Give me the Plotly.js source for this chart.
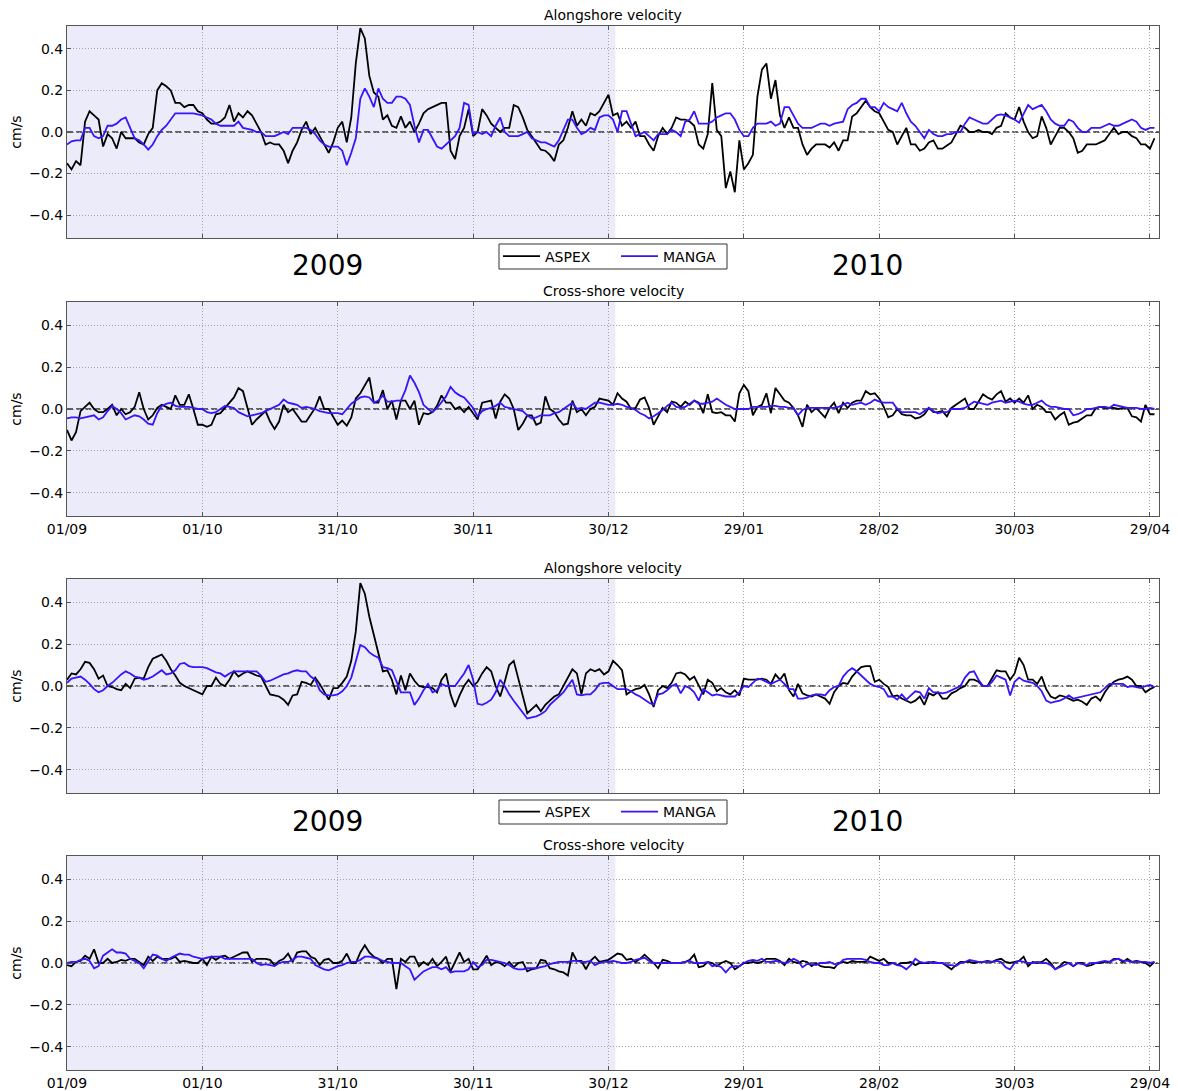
<!DOCTYPE html>
<html>
<head>
<meta charset="utf-8">
<script src="https://cdn.plot.ly/plotly-3.0.1.min.js"></script>
<style>
html,body{margin:0;padding:0;background:#fff;}
#chart{width:1178px;height:1091px;}
</style>
</head>
<body>
<div id="chart"></div>
<script>
// ---------------- DATA (daily values starting 01/09/2009) ----------------
const startDate = '2009-09-01';
const seriesNames = ['ASPEX', 'MANGA'];
const panelTitles = ['Alongshore velocity', 'Cross-shore velocity', 'Alongshore velocity', 'Cross-shore velocity'];
const yearLabels = ['2009', '2010'];
const yTicks = [-0.4, -0.2, 0.0, 0.2, 0.4];
const shadeEnd = '2009-12-31 12:00';
const xEnd = '2010-05-01';

// Panel 1 : alongshore velocity
const along1_aspex = [
-0.15,-0.18,-0.14,-0.16,0.05,0.10,0.08,0.06,-0.07,-0.01,
-0.03,-0.08,0.00,-0.03,-0.03,-0.03,-0.05,-0.06,-0.01,0.02,
0.20,0.235,0.22,0.20,0.14,0.14,0.12,0.13,0.13,0.10,
0.09,0.06,0.04,0.04,0.05,0.07,0.13,0.05,0.09,0.07,
0.10,0.08,0.04,0.00,-0.06,-0.05,-0.06,-0.06,-0.09,-0.15,
-0.09,-0.05,0.01,0.05,-0.01,0.02,-0.02,-0.06,-0.10,-0.05,
0.02,0.05,-0.05,0.07,0.33,0.50,0.45,0.27,0.19,0.17,
0.06,0.08,0.03,0.02,0.075,0.02,0.05,0.00,0.04,0.09,
0.11,0.12,0.13,0.14,0.14,-0.09,-0.13,-0.02,0.02,0.11,
-0.02,0.00,0.11,0.08,0.04,0.02,0.00,0.02,0.02,0.13,
0.12,0.07,0.01,-0.02,-0.05,-0.085,-0.09,-0.11,-0.14,-0.06,
-0.04,0.02,0.10,0.03,0.06,0.03,0.09,0.08,0.10,0.14,
0.18,0.08,0.09,0.03,0.05,0.02,0.05,-0.02,-0.02,-0.06,
-0.09,-0.02,0.02,-0.01,0.02,0.07,0.06,0.06,0.05,0.03,
-0.06,-0.08,-0.01,0.235,0.01,-0.02,-0.27,-0.19,-0.29,-0.04,
-0.18,-0.15,-0.11,0.17,0.30,0.33,0.16,0.25,0.08,0.02,
0.07,0.02,0.02,-0.06,-0.11,-0.08,-0.06,-0.06,-0.06,-0.075,
-0.05,-0.09,-0.04,-0.04,0.075,0.09,0.12,0.15,0.12,0.10,
0.09,0.05,0.01,0.00,-0.06,-0.02,0.02,-0.06,-0.06,-0.09,
-0.08,-0.05,-0.04,-0.08,-0.08,-0.065,-0.05,-0.01,0.03,0.02,
0.00,0.00,0.01,0.00,0.00,-0.01,0.02,0.03,0.09,0.07,
0.06,0.12,0.05,0.00,-0.03,-0.02,0.075,0.02,-0.06,-0.02,
0.02,0.02,0.00,-0.03,-0.10,-0.09,-0.06,-0.06,-0.06,-0.05,
-0.04,-0.01,0.02,-0.01,0.00,0.00,-0.02,-0.03,-0.06,-0.06,
-0.08,-0.03];
const along1_manga = [
-0.06,-0.045,-0.04,-0.04,0.02,0.02,-0.02,-0.03,-0.02,0.03,
0.03,0.04,0.06,0.07,0.02,-0.03,-0.04,-0.06,-0.085,-0.06,
-0.02,0.01,0.03,0.06,0.09,0.09,0.09,0.09,0.09,0.085,
0.08,0.07,0.06,0.04,0.03,0.03,0.03,0.03,0.05,0.02,
0.015,0.01,0.0,0.0,-0.02,-0.02,-0.02,-0.01,0.0,-0.01,
0.02,0.02,0.02,0.02,0.01,-0.01,-0.04,-0.06,-0.07,-0.07,
-0.07,-0.09,-0.16,-0.10,-0.03,0.16,0.21,0.17,0.12,0.21,
0.16,0.14,0.14,0.17,0.17,0.16,0.13,0.03,-0.05,0.01,
0.01,-0.03,-0.07,-0.08,-0.06,-0.04,-0.02,0.02,0.14,0.13,
-0.01,0.0,-0.01,0.0,-0.02,0.03,0.07,0.0,-0.02,-0.02,
-0.02,-0.01,0.0,-0.03,-0.04,-0.05,-0.05,-0.06,-0.07,-0.04,
0.01,0.06,0.06,0.02,-0.01,0.0,0.02,0.01,0.07,0.08,
0.08,0.06,0.0,0.10,0.10,0.04,-0.02,-0.01,0.0,-0.02,
-0.04,-0.01,-0.01,-0.01,0.01,0.0,-0.02,0.05,0.06,0.10,
0.04,0.04,0.04,0.05,0.07,0.08,0.09,0.09,0.06,0.01,
-0.02,-0.02,0.02,0.04,0.04,0.04,0.05,0.03,0.04,0.12,
0.12,0.08,0.04,0.02,0.02,0.02,0.03,0.04,0.04,0.03,
0.04,0.045,0.05,0.11,0.13,0.14,0.16,0.16,0.12,0.12,
0.10,0.14,0.12,0.11,0.10,0.14,0.09,0.05,0.03,0.0,
-0.03,0.01,-0.01,-0.02,-0.02,-0.01,-0.01,0.0,0.0,0.04,
0.07,0.06,0.05,0.04,0.04,0.06,0.08,0.085,0.08,0.07,
0.06,0.045,0.09,0.13,0.11,0.12,0.13,0.10,0.06,0.04,
0.03,0.03,0.06,0.05,0.02,0.0,0.0,0.02,0.02,0.02,
0.03,0.04,0.03,0.03,0.04,0.05,0.06,0.05,0.02,0.01,
0.02,0.02];

// Panel 2 : cross-shore velocity
const cross1_aspex = [
-0.10,-0.15,-0.11,-0.01,0.01,0.03,0.0,-0.015,-0.015,0.0,
0.02,-0.03,0.0,-0.025,-0.015,0.01,0.08,0.0,-0.05,-0.03,
0.005,0.02,0.01,0.0,0.065,0.02,0.02,0.07,0.0,-0.075,
-0.075,-0.085,-0.075,-0.025,-0.02,0.005,0.03,0.055,0.10,0.085,
0.005,-0.075,-0.05,-0.03,-0.01,-0.06,-0.095,-0.06,0.02,-0.015,
0.0,-0.03,-0.06,-0.06,-0.03,0.005,0.06,0.0,0.0,-0.035,
-0.075,-0.055,-0.08,-0.04,0.05,0.075,0.11,0.15,0.03,0.03,
0.09,0.0,0.04,-0.05,0.04,0.04,0.0,0.04,-0.075,-0.02,
-0.025,-0.015,0.015,0.065,0.03,0.03,0.0,0.01,-0.015,0.01,
-0.02,-0.05,0.03,0.035,0.04,-0.045,0.035,0.07,0.05,0.0,
-0.10,-0.07,-0.03,-0.03,-0.075,-0.065,0.06,0.0,-0.015,-0.05,
-0.075,-0.07,0.04,-0.015,0.0,-0.03,0.0,0.01,0.05,0.045,
0.04,0.02,0.075,0.05,0.035,0.0,0.005,0.045,0.055,0.005,
-0.075,-0.035,0.005,-0.015,0.035,0.03,0.01,0.035,0.02,0.04,
0.03,-0.02,0.07,-0.015,-0.02,-0.015,-0.03,-0.03,-0.06,0.075,
0.115,0.085,-0.03,0.01,0.02,0.075,-0.02,0.10,0.07,0.04,
0.03,0.005,-0.03,-0.085,0.02,-0.015,0.005,-0.02,-0.04,0.005,
0.03,-0.02,0.03,0.005,0.03,0.04,0.04,0.085,0.07,0.075,
0.05,0.01,-0.04,-0.03,0.0,-0.025,-0.03,-0.03,-0.045,-0.04,
-0.025,0.005,-0.015,-0.015,-0.01,-0.035,0.005,0.02,0.035,0.05,
0.0,0.0,0.035,0.07,0.055,0.045,0.07,0.085,0.035,0.05,
0.03,0.05,0.03,0.065,0.0,0.02,0.01,-0.015,-0.015,-0.05,
-0.03,-0.015,-0.075,-0.065,-0.06,-0.045,-0.03,-0.03,0.005,0.01,
0.005,0.005,0.005,0.0,0.005,0.005,-0.035,-0.04,-0.06,0.02,
-0.025,-0.025];
const cross1_manga = [
-0.045,-0.04,-0.04,-0.045,-0.04,-0.035,-0.03,-0.05,-0.04,-0.01,
0.015,0.0,-0.02,-0.05,-0.04,-0.03,-0.035,-0.05,-0.07,-0.075,
-0.02,0.015,0.025,0.03,0.015,0.01,0.01,0.01,0.005,0.0,
0.0,-0.015,-0.02,-0.015,0.0,0.015,0.01,0.005,-0.015,-0.025,
-0.035,-0.03,-0.025,-0.02,-0.01,0.0,0.01,0.02,0.045,0.03,
0.025,0.02,0.005,0.01,0.005,0.0,-0.01,-0.015,-0.02,-0.02,
-0.02,-0.025,0.0,0.025,0.04,0.055,0.06,0.055,0.03,0.04,
0.065,0.035,0.035,0.04,0.04,0.09,0.16,0.125,0.08,0.02,
0.0,-0.015,0.005,0.03,0.06,0.105,0.08,0.065,0.055,0.03,
0.005,-0.035,-0.01,0.0,0.005,0.015,0.03,0.01,0.005,0.0,
-0.005,-0.01,-0.03,-0.045,-0.04,-0.03,-0.03,-0.03,-0.02,-0.015,
0.0,0.015,0.03,0.0,0.005,0.0,0.015,0.03,0.03,0.025,
0.02,0.02,0.025,0.02,0.01,0.005,-0.005,-0.02,-0.03,-0.045,
-0.035,-0.02,-0.005,0.015,0.03,0.01,0.005,0.01,0.025,0.04,
0.025,0.025,0.03,0.035,0.05,0.035,0.02,0.01,0.0,0.0,
0.0,0.0,0.01,0.01,0.01,0.01,0.015,0.015,0.01,0.01,
0.005,0.005,-0.03,-0.005,0.005,0.005,0.005,0.005,0.005,0.005,
0.005,0.01,0.02,0.03,0.02,0.025,0.03,0.02,0.03,0.045,
0.035,0.03,0.03,0.03,0.0,-0.015,-0.015,-0.015,-0.015,-0.025,
-0.01,0.005,-0.01,-0.02,-0.015,-0.015,0.0,0.0,0.0,0.005,
0.02,0.035,0.03,0.025,0.02,0.03,0.035,0.04,0.03,0.035,
0.04,0.035,0.025,0.02,0.02,0.03,0.04,0.02,0.01,0.01,
0.005,0.0,0.0,-0.03,-0.025,-0.015,0.0,0.0,0.005,0.01,
0.01,0.005,0.02,0.015,0.01,0.005,0.005,0.005,0.0,0.0,
0.005,0.0];

// Panel 3 : alongshore velocity
const along2_aspex = [
0.03,0.06,0.055,0.08,0.115,0.11,0.08,0.035,0.05,0.0,
-0.005,-0.015,-0.02,0.01,-0.01,0.035,0.04,0.035,0.09,0.13,
0.14,0.15,0.12,0.08,0.05,0.015,0.0,-0.01,-0.02,-0.03,
-0.04,0.0,0.0,0.04,0.01,0.0,0.03,0.07,0.045,0.06,
0.07,0.06,0.05,0.045,0.0,-0.04,-0.045,-0.05,-0.065,-0.09,
-0.045,-0.04,0.02,0.015,0.005,0.04,0.01,-0.025,-0.065,-0.01,
-0.01,0.015,0.045,0.12,0.26,0.49,0.44,0.33,0.24,0.16,
0.07,0.075,0.03,-0.04,0.05,-0.02,0.06,0.025,0.0,-0.005,
-0.005,-0.01,-0.03,0.03,0.06,-0.04,-0.10,-0.045,0.0,0.03,
0.0,0.02,0.06,0.09,0.07,0.0,-0.05,0.02,0.10,0.12,
0.035,-0.04,-0.13,-0.11,-0.09,-0.12,-0.09,-0.07,-0.05,-0.04,
0.0,0.045,0.08,0.06,-0.04,0.06,0.08,0.07,0.08,0.055,
0.07,0.12,0.10,0.075,-0.04,-0.025,-0.015,-0.01,0.005,-0.04,
-0.10,-0.02,0.0,-0.01,0.015,0.06,0.065,0.055,0.03,0.045,
0.0,-0.04,0.03,0.015,-0.025,-0.01,-0.03,-0.04,-0.02,-0.045,
0.035,0.03,0.03,0.03,0.035,0.03,0.01,0.055,0.03,0.06,
-0.02,-0.05,0.01,-0.035,-0.045,-0.05,-0.04,-0.05,-0.06,-0.085,
-0.03,0.0,0.015,0.01,0.045,0.07,0.09,0.095,0.095,0.02,
0.03,0.01,-0.005,-0.05,-0.045,-0.06,-0.07,-0.08,-0.07,-0.05,
-0.09,-0.035,-0.045,-0.03,-0.06,-0.06,-0.035,-0.025,-0.01,0.0,
0.03,0.03,0.02,0.0,0.0,0.04,0.075,0.07,0.07,0.03,
0.06,0.135,0.10,0.03,0.03,0.01,0.045,-0.015,-0.05,-0.06,
-0.045,-0.05,-0.06,-0.07,-0.065,-0.075,-0.09,-0.06,-0.05,-0.07,
-0.03,0.0,0.02,0.03,0.035,0.045,0.03,0.0,0.0,-0.03,
-0.015,-0.005];
const along2_manga = [
0.015,0.035,0.04,0.045,0.03,0.01,-0.015,-0.03,-0.02,0.0,
0.015,0.035,0.055,0.07,0.06,0.045,0.04,0.03,0.035,0.045,
0.06,0.075,0.055,0.06,0.075,0.105,0.11,0.095,0.09,0.09,
0.09,0.085,0.075,0.065,0.06,0.045,0.06,0.07,0.07,0.07,
0.07,0.07,0.07,0.05,0.02,0.025,0.035,0.045,0.055,0.06,
0.07,0.075,0.07,0.07,0.045,0.03,-0.02,-0.04,-0.045,-0.045,
-0.04,-0.025,0.0,0.04,0.12,0.195,0.185,0.16,0.145,0.135,
0.09,0.085,0.075,0.02,-0.03,-0.03,-0.03,-0.09,-0.06,-0.02,
0.01,-0.03,-0.02,0.01,0.0,0.0,0.0,0.03,0.06,0.10,
0.03,-0.085,-0.09,-0.08,-0.065,-0.03,0.03,0.0,-0.04,-0.07,
-0.10,-0.13,-0.155,-0.15,-0.145,-0.135,-0.12,-0.09,-0.07,-0.05,
-0.03,0.0,0.03,-0.04,-0.045,-0.04,-0.04,-0.02,0.01,0.015,
0.015,0.0,-0.015,-0.015,-0.015,-0.025,-0.04,-0.05,-0.065,-0.08,
-0.09,-0.04,-0.035,-0.02,0.0,0.01,-0.035,0.0,-0.01,-0.03,
-0.07,-0.015,-0.03,-0.045,-0.04,-0.045,-0.05,-0.05,-0.05,-0.03,
0.0,-0.005,0.015,0.035,0.03,0.02,0.01,0.02,0.03,0.01,
-0.015,-0.015,-0.06,-0.06,-0.055,-0.045,-0.04,-0.04,-0.045,-0.02,
-0.005,0.0,0.045,0.07,0.085,0.07,0.05,0.03,0.01,0.0,
-0.005,-0.015,-0.05,-0.05,-0.065,-0.04,-0.065,-0.045,-0.025,-0.03,
-0.06,-0.01,-0.03,-0.03,-0.035,-0.03,-0.02,-0.01,0.0,0.04,
0.065,0.07,0.03,0.0,0.0,0.02,0.05,0.04,0.03,-0.045,
0.02,0.04,0.025,0.02,0.015,0.0,-0.025,-0.07,-0.08,-0.075,
-0.07,-0.06,-0.045,-0.06,-0.055,-0.05,-0.045,-0.04,-0.035,-0.03,
-0.01,0.01,0.01,0.01,0.01,-0.005,0.0,-0.005,-0.01,0.0,
0.005,-0.005];

// Panel 4 : cross-shore velocity
const cross2_aspex = [
-0.01,-0.015,0.005,0.01,0.035,0.02,0.065,0.0,0.0,0.02,
0.0,0.005,0.015,0.01,0.02,0.02,0.005,-0.01,0.03,0.01,
0.03,0.02,0.02,0.02,0.03,0.005,0.01,0.005,0.0,0.0,
0.02,-0.01,0.03,0.015,0.03,0.035,0.02,0.03,0.04,0.05,
0.05,0.005,0.02,0.02,0.02,0.015,-0.01,0.01,0.02,0.045,
0.005,0.05,0.055,0.055,0.03,0.02,-0.01,0.015,0.02,0.0,
0.0,0.01,0.045,0.0,0.0,0.05,0.085,0.05,0.03,0.02,
0.0,0.02,0.02,-0.125,0.02,0.005,0.03,0.03,-0.015,0.005,
-0.01,0.02,-0.015,0.005,0.03,-0.04,0.005,0.05,0.005,0.02,
-0.03,-0.03,0.0,0.035,-0.01,0.005,0.0,-0.015,0.005,-0.02,
0.0,0.005,-0.04,-0.03,-0.025,0.015,0.01,-0.025,-0.03,-0.04,
-0.045,-0.06,0.05,0.01,0.01,-0.03,0.01,0.03,0.005,0.01,
0.015,0.03,0.045,0.04,0.015,0.02,0.005,0.02,0.04,0.02,
0.0,-0.025,0.015,0.01,0.0,0.0,0.0,0.005,0.015,0.04,
-0.02,-0.015,0.005,0.0,-0.015,0.0,0.01,0.0,-0.03,-0.015,
0.0,0.0,0.005,0.0,0.005,0.02,0.02,0.02,0.01,-0.01,
0.02,0.005,0.0,0.01,0.005,-0.015,0.0,-0.015,-0.02,-0.02,
-0.025,0.0,0.005,0.0,0.01,0.005,0.005,0.005,0.03,0.02,
0.01,0.02,0.0,0.0,-0.01,0.0,0.0,0.005,-0.01,0.0,
0.0,0.0,0.005,0.0,0.0,-0.015,-0.03,-0.01,0.005,0.005,
0.005,0.0,0.005,0.005,0.01,0.005,0.015,0.02,0.005,0.0,
0.005,0.01,0.03,-0.015,0.005,0.0,0.005,0.02,0.0,-0.03,
-0.015,0.005,0.0,-0.015,0.0,0.0,-0.015,-0.01,0.0,0.0,
0.005,0.005,0.02,0.02,0.005,0.02,0.005,0.01,0.005,0.0,
-0.015,0.005];
const cross2_manga = [
0.0,0.005,0.005,0.015,0.02,0.01,-0.025,-0.015,0.035,0.05,
0.065,0.05,0.05,0.045,0.02,0.01,0.0,-0.025,0.01,0.04,
0.035,0.02,0.01,0.025,0.035,0.045,0.04,0.04,0.03,0.025,
0.02,0.025,0.03,0.03,0.03,0.02,0.02,0.02,0.02,0.02,
0.02,0.02,0.0,-0.01,-0.005,-0.01,-0.015,0.0,0.005,0.005,
0.015,0.03,0.03,0.025,0.02,-0.01,-0.02,-0.03,-0.035,-0.025,
-0.015,-0.01,0.0,0.005,0.005,0.015,0.03,0.03,0.025,0.02,
0.01,0.005,0.0,0.0,0.0,-0.015,-0.03,-0.08,-0.06,-0.04,
-0.03,-0.02,-0.02,-0.03,-0.02,-0.045,-0.04,-0.04,-0.04,-0.03,
0.005,-0.02,-0.01,0.015,0.015,0.01,0.005,0.0,-0.01,-0.025,
-0.03,-0.03,-0.025,-0.025,-0.025,-0.02,-0.015,-0.005,0.0,0.005,
0.005,0.005,0.01,0.01,0.005,0.005,0.01,-0.01,0.0,0.005,
0.005,0.01,0.005,0.0,0.0,0.005,0.015,0.02,0.025,0.01,
0.0,0.0,0.0,0.0,0.0,0.0,0.0,0.005,0.01,0.0,
0.0,0.0,0.005,-0.015,-0.01,-0.02,-0.045,-0.02,-0.015,-0.015,
0.0,0.01,0.015,0.01,0.02,0.005,0.005,0.01,0.005,0.0,
0.005,0.02,0.01,-0.02,-0.005,-0.005,-0.01,0.0,0.0,0.005,
-0.005,-0.005,0.015,0.02,0.02,0.02,0.02,0.015,0.005,0.0,
0.0,-0.01,-0.01,0.0,-0.01,-0.015,-0.03,-0.01,0.02,0.005,
0.0,0.005,0.0,0.0,0.0,-0.01,-0.01,-0.015,0.0,0.005,
0.015,0.01,0.005,0.005,0.005,0.005,0.01,0.005,-0.02,-0.03,
0.0,0.01,0.005,0.0,0.0,0.005,0.0,0.0,-0.01,-0.03,
-0.02,-0.01,0.0,-0.015,0.0,-0.005,-0.01,0.0,0.0,0.005,
0.01,0.005,0.015,0.02,0.01,0.01,0.005,0.005,0.005,0.005,
0.0,0.005];

// ---------------- BUILD ----------------
function dailyDates(n) {
  const t0 = Date.UTC(2009, 8, 1);
  const out = [];
  for (let i = 0; i < n; i++) {
    const d = new Date(t0 + i * 86400000);
    out.push(d.toISOString().slice(0, 10));
  }
  return out;
}

const W = 1178, H = 1091;
const M = {l: 67, r: 19, t: 26, b: 21};
const paperY = px => (H - M.b - px) / (H - M.t - M.b);
const paperX = px => (px - M.l) / (W - M.l - M.r);

const panels = [
  {top: 26,  bottom: 238,  aspex: along1_aspex, manga: along1_manga, labels: false, legend: 'legend',  dash: '6px,3px'},
  {top: 302, bottom: 516,  aspex: cross1_aspex, manga: cross1_manga, labels: true,  legend: null,      dash: '6px,3px'},
  {top: 579, bottom: 793,  aspex: along2_aspex, manga: along2_manga, labels: false, legend: 'legend2', dash: '6px,3px,1.5px,3px'},
  {top: 856, bottom: 1070, aspex: cross2_aspex, manga: cross2_manga, labels: true,  legend: null,      dash: '6px,3px,1.5px,3px'}
];

const black = '#000000';
const blue = 'rgb(55,20,250)';
const frame = '#555555';
const gridCol = 'rgb(165,165,165)';
const font = {family: 'DejaVu Sans, sans-serif', size: 14, color: '#000'};

const traces = [];
const layout = {
  width: W, height: H,
  margin: M,
  paper_bgcolor: '#fff', plot_bgcolor: '#fff',
  font: font,
  shapes: [], annotations: [],
  showlegend: true
};

panels.forEach((p, i) => {
  const k = i === 0 ? '' : String(i + 1);
  const xa = 'x' + k, ya = 'y' + k;
  [[p.aspex, seriesNames[0], black], [p.manga, seriesNames[1], blue]].forEach(([vals, name, col]) => {
    const tr = {
      type: 'scatter', mode: 'lines',
      x: dailyDates(vals.length), y: vals,
      name: name, xaxis: xa, yaxis: ya,
      line: {color: col, width: 1.8},
      showlegend: !!p.legend, hoverinfo: 'skip'
    };
    if (p.legend) tr.legend = p.legend;
    traces.push(tr);
  });
  layout['xaxis' + k] = {
    type: 'date', domain: [0, 1], anchor: ya,
    range: [startDate, xEnd],
    tickmode: 'linear', tick0: startDate, dtick: 30 * 86400000,
    tickformat: '%d/%m', showticklabels: p.labels,
    ticks: 'inside', ticklen: 4, tickcolor: frame, mirror: 'ticks',
    showline: true, linecolor: frame, linewidth: 1,
    showgrid: true, gridcolor: gridCol, griddash: '1px,2px', gridwidth: 1,
    zeroline: false, tickfont: {size: 14, color: '#000'}
  };
  layout['yaxis' + k] = {
    domain: [paperY(p.bottom), paperY(p.top)], anchor: xa,
    range: [-0.51, 0.51],
    tickmode: 'array', tickvals: yTicks, tickformat: '.1f',
    ticks: 'inside', ticklen: 4, tickcolor: frame, mirror: 'ticks',
    showline: true, linecolor: frame, linewidth: 1,
    showgrid: true, gridcolor: gridCol, griddash: '1px,2px', gridwidth: 1,
    zeroline: false, tickfont: {size: 14, color: '#000'},
    title: {text: 'cm/s', font: {size: 14, color: '#000'}, standoff: 4}
  };
  // shaded 2009 period
  layout.shapes.push({
    type: 'rect', xref: xa, yref: ya + ' domain',
    x0: startDate, x1: shadeEnd, y0: 0, y1: 1,
    fillcolor: 'rgb(235,235,250)', line: {width: 0}, layer: 'below'
  });
  // zero reference line
  layout.shapes.push({
    type: 'line', xref: xa + ' domain', yref: ya,
    x0: 0, x1: 1, y0: 0, y1: 0,
    line: {color: '#333', width: 1.3, dash: p.dash}, layer: 'below'
  });
  // panel title
  layout.annotations.push({
    text: panelTitles[i], xref: 'paper', yref: 'paper',
    x: 0.5, y: paperY(p.top), xanchor: 'center', yanchor: 'bottom',
    yshift: 1, showarrow: false, font: {size: 14, color: '#000'}
  });
});

// year labels and legends between panels (legend frame drawn as a paper shape)
[[244, 269], [800, 824]].forEach(([boxTop, boxBottom], j) => {
  const lg = j === 0 ? 'legend' : 'legend2';
  const mid = (boxTop + boxBottom) / 2;
  layout.shapes.push({
    type: 'rect', xref: 'paper', yref: 'paper',
    x0: paperX(499), x1: paperX(727), y0: paperY(boxBottom), y1: paperY(boxTop),
    fillcolor: '#fff', line: {color: '#333', width: 1}, layer: 'above'
  });
  layout[lg] = {
    orientation: 'h', x: paperX(498), xanchor: 'left',
    y: paperY(mid), yanchor: 'middle',
    bgcolor: 'rgba(0,0,0,0)', borderwidth: 0,
    font: {size: 14, color: '#000'}, itemwidth: 37,
    entrywidth: 66, entrywidthmode: 'pixels'
  };
  const yearY = mid + 9;
  layout.annotations.push({
    text: yearLabels[0], xref: 'paper', yref: 'paper',
    x: paperX(327), y: paperY(yearY), xanchor: 'center', yanchor: 'middle',
    showarrow: false, font: {size: 28, color: '#000'}
  });
  layout.annotations.push({
    text: yearLabels[1], xref: 'paper', yref: 'paper',
    x: paperX(868), y: paperY(yearY), xanchor: 'center', yanchor: 'middle',
    showarrow: false, font: {size: 28, color: '#000'}
  });
});

Plotly.newPlot('chart', traces, layout, {displayModeBar: false, staticPlot: true});
</script>
</body>
</html>
